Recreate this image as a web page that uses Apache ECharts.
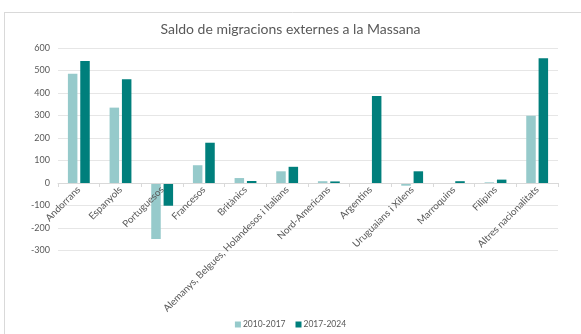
<!DOCTYPE html>
<html><head><meta charset="utf-8">
<script src="https://cdn.jsdelivr.net/npm/echarts@6/dist/echarts.min.js"></script>
<style>html,body{margin:0;padding:0;background:#fff}#c{width:581px;height:334px}</style>
</head><body><div id="c"></div>
<script>
const categories = ["Andorrans","Espanyols","Portuguesos","Francesos","Britànics","Alemanys, Belgues, Holandesos i Italians","Nord-Americans","Argentins","Uruguaians i Xilens","Marroquins","Filipins","Altres nacionalitats"];
const series2010_2017 = [486, 335, -249, 79, 22, 52, 8, -3, -12, -3, 3, 299];
const series2017_2024 = [542, 461, -101, 179, 9, 72, 7, 387, 52, 8, 15, 554];
const seriesNames = ["2010-2017", "2017-2024"];
const titleText = "Saldo de migracions externes a la Massana";

const chart = echarts.init(document.getElementById('c'), null, {renderer:'canvas'});
const font = 'Lato, "Open Sans", sans-serif';
chart.setOption({
  animation:false,
  backgroundColor:'#fff',
  textStyle:{fontFamily:font},
  title:{text:titleText,left:'center',top:17,textStyle:{fontSize:14,fontWeight:'normal',color:'#595959',fontFamily:font}},
  graphic:[
    {type:'line',shape:{x1:4,y1:12.5,x2:581,y2:12.5},style:{stroke:'#d9d9d9',lineWidth:1}},
    {type:'line',shape:{x1:4.5,y1:12,x2:4.5,y2:334},style:{stroke:'#d9d9d9',lineWidth:1}}
  ],
  legend:{bottom:0,left:'center',itemWidth:6,itemHeight:6,itemGap:10,icon:'rect',
    textStyle:{fontSize:8.5,color:'#595959',fontFamily:font,padding:[0,0,0,-3]},data:seriesNames},
  grid:{left:58,right:23,top:48,bottom:83.5,containLabel:false,outerBoundsMode:'none'},
  xAxis:{type:'category',data:categories,position:'bottom',offset:-67.5,z:5,
    axisLine:{onZero:false,lineStyle:{color:'#d9d9d9'}},
    axisTick:{show:true,length:4,lineStyle:{color:'#d9d9d9'}},
    axisLabel:{rotate:45,fontSize:9.8,color:'#595959',interval:0,margin:5,fontFamily:font}},
  yAxis:{type:'value',min:-300,max:600,interval:100,
    axisLine:{show:false},axisTick:{show:false},
    axisLabel:{fontSize:9,color:'#595959',margin:8,fontFamily:font},
    splitLine:{lineStyle:{color:'#e6e6e6'}}},
  series:[
    {name:seriesNames[0],type:'bar',data:series2010_2017,barWidth:9.5,barGap:'30%',itemStyle:{color:'#96cacb'}},
    {name:seriesNames[1],type:'bar',data:series2017_2024,barWidth:9.5,barGap:'30%',itemStyle:{color:'#007f7c'}}
  ]
});
</script></body></html>
